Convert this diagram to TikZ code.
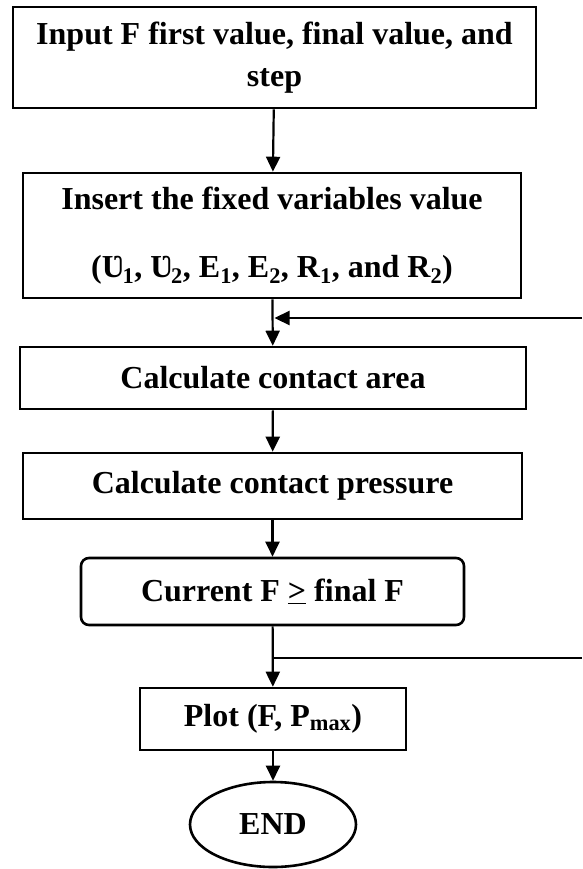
\documentclass[tikz,border=0pt]{standalone}
\usepackage{fontspec}
\setmainfont{Liberation Serif}
\usetikzlibrary{arrows.meta,shapes.geometric}

\begin{document}
\begin{tikzpicture}[
  x=1pt, y=-1pt,
  box/.style = {rectangle, draw, line width=2.6pt, align=center, inner sep=0pt, font=\fontsize{32}{42}\selectfont\bfseries},
  arrow/.style = {-{Triangle[length=15pt,width=14pt]}, line width=2.2pt},
  line/.style = {line width=2.2pt}
]

\useasboundingbox (0,0) rectangle (582,869);

% Input and fixed values
\node[box, minimum width=523pt, minimum height=101pt] at (274.5,57.5) (input) {Input F first value, final value, and\\step};
\node[box, minimum width=498pt, minimum height=125pt] at (272,235.5) (fixed) {Insert the fixed variables value\\[26pt]
  (Ʋ\textsubscript{1}, Ʋ\textsubscript{2}, E\textsubscript{1}, E\textsubscript{2}, R\textsubscript{1}, and R\textsubscript{2})};

% Calculation steps
\node[box, minimum width=506pt, minimum height=62pt] at (273,378) (area) {Calculate contact area};
\node[box, minimum width=499pt, minimum height=66pt] at (272.5,486) (pressure) {Calculate contact pressure};

% Check, plot and end
\node[box, rounded corners=8pt, minimum width=383pt, minimum height=67pt] at (272.5,591.5) (check) {Current F \underline{>} final F};
\node[box, minimum width=266pt, minimum height=62pt] at (273,719) (plot) {Plot (F, P\textsubscript{max})};
\node[box, ellipse, minimum width=166pt, minimum height=85pt] at (273,824.5) (end) {END};

% Junctions of the loop
\coordinate (jin) at (273,318);
\coordinate (jout) at (273,658);
\coordinate (loopin) at (582,318);
\coordinate (loopout) at (582,658);

% Arrows
\draw[arrow] (input) -- (fixed);
\draw[arrow] (fixed) -- (area);
\draw[arrow] (loopin) -- ([xshift=1.5pt]jin);
\draw[arrow] (area) -- (pressure);
\draw[arrow] (pressure) -- (check);
\draw[arrow] (check) -- (plot);
\draw[line] (jout) -- (loopout);
\draw[arrow] (plot) -- (end);

\end{tikzpicture}
\end{document}
